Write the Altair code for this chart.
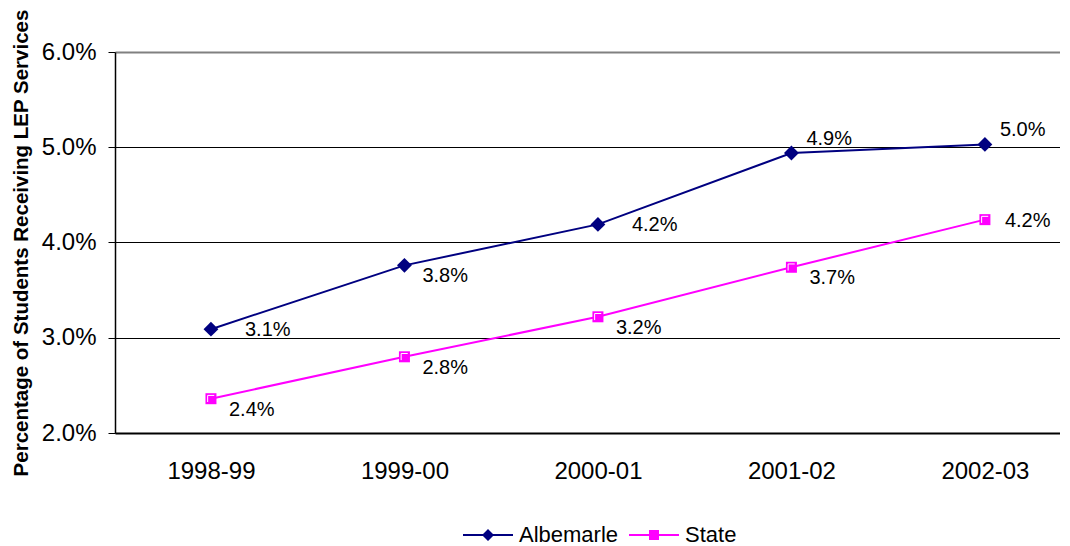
import altair as alt
import pandas as pd

FONT = "Liberation Sans"

years = ["1998-99", "1999-00", "2000-01", "2001-02", "2002-03"]
albemarle = [0.0309, 0.0376, 0.0419, 0.0494, 0.0503]
state = [0.0236, 0.0280, 0.0322, 0.0374, 0.0424]
series_names = ["Albemarle", "State"]
colors = ["#000080", "#FF00FF"]
y_ticks = [0.02, 0.03, 0.04, 0.05, 0.06]

rows = []
for i, yr in enumerate(years):
    rows.append({"year": yr, "series": "Albemarle", "value": albemarle[i], "idx": i})
    rows.append({"year": yr, "series": "State", "value": state[i], "idx": i})
df = pd.DataFrame(rows)

x_enc = alt.X(
    "year:N",
    sort=years,
    scale=alt.Scale(type="point", padding=0.442, align=0.561),
    axis=alt.Axis(
        title=None, labelAngle=0, labelFont=FONT, labelFontSize=24, labelColor="black",
        ticks=False, labelPadding=26, domainColor="black", domainWidth=2, grid=False,
    ),
)
y_enc = alt.Y(
    "value:Q",
    scale=alt.Scale(domain=[0.02, 0.06], nice=False, zero=False),
    axis=alt.Axis(
        values=y_ticks, format=".1%", title="Percentage of Students Receiving LEP Services",
        titleFont=FONT, titleFontSize=20.5, titleFontWeight="bold", titleColor="black",
        titlePadding=10,
        labelFont=FONT, labelFontSize=24, labelColor="black", labelPadding=12,
        tickSize=7, tickColor="black", tickWidth=1,
        domainColor="black", domainWidth=1.5,
        grid=True,
        gridColor={"condition": {"test": "datum.value > 0.059", "value": "#808080"}, "value": "#000000"},
        gridWidth={"condition": {"test": "datum.value > 0.059", "value": 2}, "value": 1},
        gridOpacity=1,
    ),
)
color_scale = alt.Scale(domain=series_names, range=colors)

alb_path = "M-1,-0.04H1V0.04H-1ZM0,-0.24L0.24,0L0,0.24L-0.24,0Z"
st_path = "M-1,-0.04H1V0.04H-1ZM-0.2,-0.2H0.2V0.2H-0.2Z"

def make_legend():
    return alt.Legend(
        orient="none", legendX=348, legendY=458, direction="horizontal", title=None,
        labelFont=FONT, labelFontSize=22, labelColor="black",
        symbolSize=2500, labelOffset=6, columnPadding=10, symbolStrokeWidth=0,
        symbolOpacity=1,
    )

base = alt.Chart(df)
alb = base.transform_filter("datum.series === 'Albemarle'")
st = base.transform_filter("datum.series === 'State'")

alb_line = alb.mark_line(strokeWidth=2, color=colors[0]).encode(x=x_enc, y=y_enc)
st_line = st.mark_line(strokeWidth=2, color=colors[1]).encode(x=x_enc, y=y_enc)

alb_pts = alb.mark_point(filled=True, opacity=1, shape="diamond", size=220, color=colors[0]).encode(x=x_enc, y=y_enc)
st_pts = st.mark_point(filled=True, opacity=1, shape="square", size=121, color=colors[1]).encode(x=x_enc, y=y_enc)

highlight = st.mark_point(
    shape="M-0.6,0.6V-0.6H0.6", filled=False, stroke="white", strokeWidth=1, size=121, opacity=1
).encode(x=x_enc, y=y_enc)

legend_layer = base.mark_point(filled=True, opacity=0).encode(
    x=x_enc, y=y_enc,
    color=alt.Color("series:N", scale=color_scale, legend=make_legend()),
    shape=alt.Shape("series:N", scale=alt.Scale(domain=series_names, range=[alb_path, st_path]),
                    legend=make_legend()),
)

def labels(test, dx, dy):
    return base.transform_filter(test).mark_text(
        align="left", baseline="middle", dx=dx, dy=dy, font=FONT, fontSize=20, color="black"
    ).encode(x=x_enc, y=y_enc, text=alt.Text("value:Q", format=".1%"))

lab_a = labels("(datum.series === 'Albemarle' && datum.idx === 1) || (datum.series === 'State' && datum.idx < 4)", 18, 11)
lab_b = labels("datum.series === 'Albemarle' && (datum.idx === 0 || datum.idx === 2)", 34, 1)
lab_c = labels("datum.series === 'Albemarle' && datum.idx >= 3", 15, -14)
lab_d = labels("datum.series === 'State' && datum.idx === 4", 20, 1)

chart = alt.layer(alb_line, st_line, alb_pts, st_pts, highlight, legend_layer,
                  lab_a, lab_b, lab_c, lab_d).properties(
    width=945, height=381,
    autosize=alt.AutoSizeParams(type="none"),
    padding={"left": 107, "top": 44, "right": 0, "bottom": 125},
    background="white",
).configure_view(strokeWidth=0)

chart.save("out.html", embed_options={"renderer": "svg", "actions": False})
